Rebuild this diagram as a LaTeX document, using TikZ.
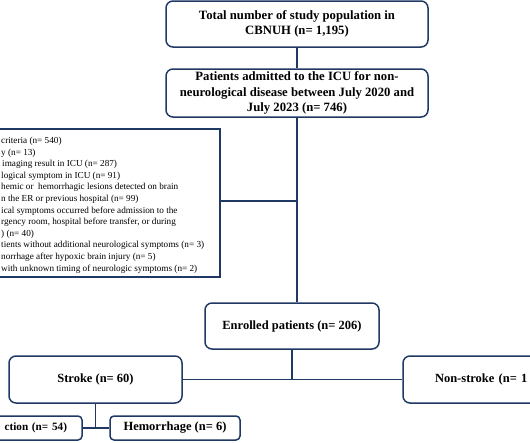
\documentclass[tikz,border=0pt]{standalone}
\usepackage{fontspec}
\setmainfont{Liberation Serif}
\usetikzlibrary{positioning}
\definecolor{navy}{RGB}{32,56,100}

\begin{document}
\begin{tikzpicture}[
  x=1pt, y=-1pt,
  box/.style={draw=navy, line width=1.5pt, rounded corners=7pt, align=center,
    font=\fontsize{12.7}{15.5}\selectfont\bfseries, inner sep=2pt},
  single/.style={box, font=\fontsize{12.5}{14}\selectfont\bfseries},
  small/.style={single, rounded corners=4pt, minimum height=24pt},
  exbox/.style={draw=navy, line width=1.5pt},
  extext/.style={align=left, inner sep=0pt, font=\fontsize{9.2}{11.6}\selectfont},
  link/.style={navy, line width=1.5pt}
]
\useasboundingbox (0,0) rectangle (530,442);
\clip (0,0) rectangle (530,442);

\node[box, minimum width=262pt, minimum height=46pt] (total) at (297,24)
  {Total number of study population in\\CBNUH (n= 1,195)};
\node[box, minimum width=262pt, minimum height=48pt] (admit) at (297,93)
  {Patients admitted to the ICU for non-\\neurological disease between July 2020 and\\July 2023 (n= 746)};

% exclusion list, cut at the left border
\node[exbox, minimum width=280pt, minimum height=148pt] (excl) at (80,203) {};
\node[extext, anchor=north west] (exlist) at (1,137) {%
  criteria (n= 540)\\
  y (n= 13)\\
  \hspace{1pt}imaging result in ICU (n= 287)\\
  logical symptom in ICU (n= 91)\\
  hemic or\ \ hemorrhagic lesions detected on brain\\
  n the ER or previous hospital (n= 99)\\
  ical symptoms occurred before admission to the\\
  rgency room, hospital before transfer, or during\\
  ) (n= 40)\\
  tients without additional neurological symptoms (n= 3)\\
  norrhage after hypoxic brain injury (n= 5)\\
  with unknown timing of neurologic symptoms (n= 2)};

\node[single, minimum width=174pt, minimum height=46pt] (enroll) at (292,326)
  {Enrolled patients (n= 206)};
\node[single, minimum width=173pt, minimum height=47pt] (stroke) at (95.5,379.5)
  {Stroke (n= 60)};
\node[single, minimum height=47pt, text width=145pt, align=left, inner xsep=32pt] (nonstroke) at (507.5,379.5)
  {Non-stroke (n= 1};
\node[small, font=\fontsize{11.2}{13}\selectfont\bfseries, text width=90pt, align=right, inner xsep=15pt] (infarct) at (22,428)
  {ction (n= 54)};
\node[small, minimum width=130pt] (hemo) at (175,428)
  {Hemorrhage (n= 6)};

\draw[link] (total) -- (admit);
\draw[link] (admit.south) -- (admit.south |- enroll.north);
\draw[link] (excl.east |- 0,201) -- (admit.south |- 0,201);
\draw[link] (enroll.south) -- (enroll.south |- stroke.east);
\draw[link] (stroke.east) -- (nonstroke.west);
\draw[link] (stroke.south) -- (stroke.south |- hemo.west);
\draw[link] (infarct.east) -- (hemo.west);
\end{tikzpicture}
\end{document}
